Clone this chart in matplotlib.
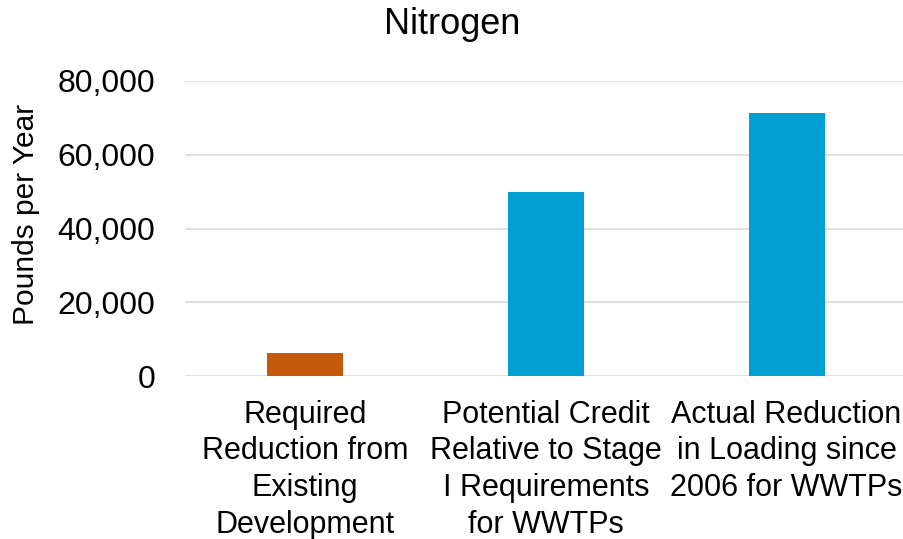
import matplotlib.pyplot as plt
from matplotlib.ticker import FuncFormatter

plt.rcParams['font.family'] = ['Liberation Sans', 'DejaVu Sans']

# data
categories = [
    "Required\nReduction from\nExisting\nDevelopment",
    "Potential Credit\nRelative to Stage\nI Requirements\nfor WWTPs",
    "Actual Reduction\nin Loading since\n2006 for WWTPs",
]
values = [6200, 50000, 71400]
bar_colors = ["#C55A0C", "#009FD1", "#009FD1"]
yticks = [0, 20000, 40000, 60000, 80000]

fig = plt.figure(figsize=(9.04, 5.39), dpi=100)
ax = fig.add_axes([184.6 / 904, 1 - 376 / 539, 722.4 / 904, 295 / 539])

x = list(range(len(categories)))
ax.bar(x, values, width=0.315, color=bar_colors, zorder=3)

ax.set_xlim(-0.5, 2.5)
ax.set_ylim(0, 80000)
ax.set_yticks(yticks)
ax.yaxis.set_major_formatter(FuncFormatter(lambda v, p: f"{int(v):,}"))
ax.set_xticks(x)
ax.set_xticklabels(categories, fontsize=22, linespacing=1.29)
ax.tick_params(axis='y', length=0, pad=21, labelsize=23)
ax.tick_params(axis='x', length=0, pad=17)

ax.grid(axis='y', color='#D9D9D9', linewidth=1.2, zorder=0)
ax.set_axisbelow(True)
for s in ax.spines.values():
    s.set_visible(False)

ax.set_ylabel("Pounds per Year", fontsize=21.5)
ax.yaxis.set_label_coords(-0.200, 0.546)

fig.text(0.5, 1 - 24 / 539, "Nitrogen", ha='center', va='center', fontsize=26)

fig.savefig("out.png", dpi=100)
